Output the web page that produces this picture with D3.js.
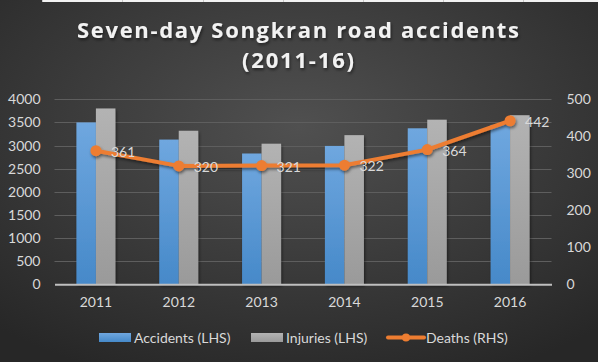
<!DOCTYPE html>
<html>
<head>
<meta charset="utf-8">
<script src="https://cdn.jsdelivr.net/npm/d3@7"></script>
<style>
  html, body { margin: 0; padding: 0; background: #2a2a2a; }
  svg { display: block; font-family: "Lato", "Open Sans", sans-serif; }
</style>
</head>
<body>
<svg id="chart" width="598" height="362"></svg>
<script>
// data
const years = ["2011", "2012", "2013", "2014", "2015", "2016"];
const accidents = [3500, 3129, 2828, 2992, 3373, 3447];
const injuries = [3802, 3320, 3040, 3225, 3559, 3656];
const deaths = [361, 320, 321, 322, 364, 442];
const leftTicks = [0, 500, 1000, 1500, 2000, 2500, 3000, 3500, 4000];
const rightTicks = [0, 100, 200, 300, 400, 500];
const seriesNames = ["Accidents (LHS)", "Injuries (LHS)", "Deaths (RHS)"];

const svg = d3.select("#chart");
const width = +svg.attr("width");
const height = +svg.attr("height");

const defs = svg.append("defs");
const bg = defs.append("radialGradient").attr("id", "bg")
  .attr("cx", "50%").attr("cy", "35%").attr("r", "75%");
bg.append("stop").attr("offset", "0%").attr("stop-color", "#505050");
bg.append("stop").attr("offset", "100%").attr("stop-color", "#272727");

const blue = defs.append("linearGradient").attr("id", "blue")
  .attr("x1", 0).attr("y1", 0).attr("x2", 0).attr("y2", 1);
blue.append("stop").attr("offset", "0%").attr("stop-color", "#6fa7df");
blue.append("stop").attr("offset", "100%").attr("stop-color", "#4689c9");

const grey = defs.append("linearGradient").attr("id", "grey")
  .attr("x1", 0).attr("y1", 0).attr("x2", 0).attr("y2", 1);
grey.append("stop").attr("offset", "0%").attr("stop-color", "#b3b3b3");
grey.append("stop").attr("offset", "100%").attr("stop-color", "#9a9a9a");

const shadow = defs.append("filter").attr("id", "shadow")
  .attr("x", "-20%").attr("y", "-20%").attr("width", "140%").attr("height", "160%");
shadow.append("feDropShadow").attr("dx", 1).attr("dy", 2)
  .attr("stdDeviation", 1.5).attr("flood-color", "#000").attr("flood-opacity", 0.5);

svg.append("rect").attr("width", width).attr("height", height).attr("fill", "url(#bg)");

// thin strip of sheet showing at the top
svg.append("rect").attr("x", 43).attr("y", 0).attr("width", width - 43).attr("height", 2)
  .attr("fill", "#f2f2f2");
[42, 122, 203, 283, 363, 443, 523].forEach((sx) => {
  svg.append("line").attr("x1", sx + 0.5).attr("x2", sx + 0.5).attr("y1", 0).attr("y2", 2)
    .attr("stroke", "#c8c8c8");
});

// title
const title = svg.append("g").attr("fill", "#f2f2f2").attr("font-weight", "bold")
  .attr("font-family", "'Open Sans', sans-serif")
  .attr("font-size", 22).attr("text-anchor", "middle")
  .attr("filter", "url(#shadow)");
title.append("text").attr("x", 298).attr("y", 38)
  .attr("textLength", 442).attr("lengthAdjust", "spacing")
  .text("Seven-day Songkran road accidents");
title.append("text").attr("x", 298).attr("y", 68)
  .attr("textLength", 112).attr("lengthAdjust", "spacing")
  .text("(2011-16)");

const margin = { left: 54.5, right: 46.5, top: 99.3, bottom: 77.7 };
const plotW = width - margin.left - margin.right;
const plotH = height - margin.top - margin.bottom;

const x = d3.scaleBand().domain(years).range([margin.left, margin.left + plotW]);
const y = d3.scaleLinear().domain([0, 4000]).range([margin.top + plotH, margin.top]);
const y2 = d3.scaleLinear().domain([0, 500]).range([margin.top + plotH, margin.top]);

// gridlines
svg.append("g").selectAll("line").data(leftTicks.slice(1)).join("line")
  .attr("x1", margin.left).attr("x2", margin.left + plotW)
  .attr("y1", (d) => Math.round(y(d)) + 0.5).attr("y2", (d) => Math.round(y(d)) + 0.5)
  .attr("stroke", "#5e5e5e").attr("stroke-width", 1);

// left axis
const leftAxis = svg.append("g").attr("transform", `translate(${margin.left},0)`)
  .call(d3.axisLeft(y).tickValues(leftTicks).tickFormat(d3.format("d"))
    .tickSize(0).tickPadding(14));
leftAxis.select(".domain").remove();
leftAxis.selectAll("text").attr("fill", "#d9d9d9").attr("font-size", 14)
  .attr("font-family", "Lato, sans-serif");

// right axis
const rightAxis = svg.append("g").attr("transform", `translate(${margin.left + plotW},0)`)
  .call(d3.axisRight(y2).tickValues(rightTicks).tickSize(0).tickPadding(15));
rightAxis.select(".domain").remove();
rightAxis.selectAll("text").attr("fill", "#d9d9d9").attr("font-size", 14)
  .attr("font-family", "Lato, sans-serif");

// bars
const inner = d3.scaleBand().domain([0, 1]).range([0, 39]);
const barOffset = (x.bandwidth() - 39) / 2;
const groups = svg.append("g").attr("filter", "url(#shadow)")
  .selectAll("g").data(years).join("g")
  .attr("transform", (d) => `translate(${x(d) + barOffset},0)`);
groups.append("rect")
  .attr("x", inner(0)).attr("width", inner.bandwidth())
  .attr("y", (d, i) => y(accidents[i]))
  .attr("height", (d, i) => y(0) - y(accidents[i]))
  .attr("fill", "url(#blue)");
groups.append("rect")
  .attr("x", inner(1)).attr("width", inner.bandwidth())
  .attr("y", (d, i) => y(injuries[i]))
  .attr("height", (d, i) => y(0) - y(injuries[i]))
  .attr("fill", "url(#grey)");

// x axis
const xAxis = svg.append("g").attr("transform", `translate(0,${margin.top + plotH})`)
  .call(d3.axisBottom(x).tickSize(0).tickPadding(13));
xAxis.select(".domain").attr("stroke", "#bfbfbf").attr("stroke-width", 2);
xAxis.selectAll("text").attr("fill", "#d9d9d9").attr("font-size", 14)
  .attr("font-family", "Lato, sans-serif");

// deaths line
const cx = (d, i) => x(years[i]) + x.bandwidth() / 2;
const line = d3.line().x(cx).y((d) => y2(d));
const lineG = svg.append("g").attr("filter", "url(#shadow)");
lineG.append("path").datum(deaths).attr("d", line)
  .attr("fill", "none").attr("stroke", "#ed7d31").attr("stroke-width", 4)
  .attr("stroke-linejoin", "round");
lineG.selectAll("circle").data(deaths).join("circle")
  .attr("cx", cx).attr("cy", (d) => y2(d)).attr("r", 5.5)
  .attr("fill", "#ed7d31");

svg.append("g").selectAll("text").data(deaths).join("text")
  .attr("x", (d, i) => cx(d, i) + 15).attr("y", (d) => y2(d) + 6)
  .attr("fill", "#d9d9d9").attr("font-size", 14)
  .text((d) => d);

// legend
const legend = svg.append("g").attr("font-size", 14).attr("fill", "#d9d9d9");
const legendX = [99, 251, 388];
const legendFills = ["url(#blue)", "url(#grey)", null];
seriesNames.forEach((name, i) => {
  const g = legend.append("g").attr("transform", `translate(${legendX[i]},337.5)`);
  if (legendFills[i]) {
    g.append("rect").attr("x", 0).attr("y", -4.5).attr("width", 32).attr("height", 9)
      .attr("fill", legendFills[i]);
    g.append("text").attr("x", 35).attr("y", 5).text(name);
  } else {
    g.append("line").attr("x1", 0).attr("x2", 36).attr("y1", 0).attr("y2", 0)
      .attr("stroke", "#ed7d31").attr("stroke-width", 4).attr("stroke-linecap", "round");
    g.append("circle").attr("cx", 18).attr("cy", 0).attr("r", 4).attr("fill", "#ed7d31");
    g.append("text").attr("x", 38).attr("y", 5).text(name);
  }
});
</script>
</body>
</html>
